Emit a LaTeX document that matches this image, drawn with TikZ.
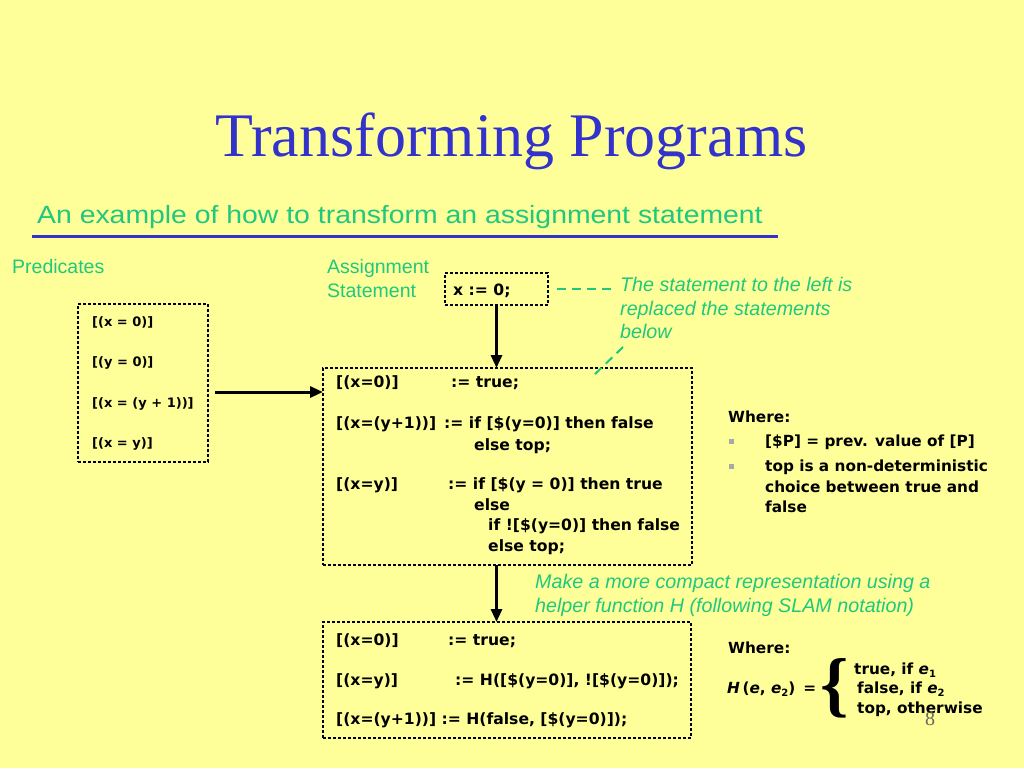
\documentclass[tikz,border=0pt]{standalone}
\usepackage{fontspec}
\setmainfont{Liberation Serif}
\newfontfamily\codefont{DejaVu Sans}
\newfontfamily\labfont{Liberation Sans}
\newfontfamily\subfont[FakeStretch=1.135]{Liberation Sans}
\usetikzlibrary{arrows.meta,calc}
\definecolor{bg}{HTML}{FFFF99}
\definecolor{titleblue}{HTML}{3333CC}
\definecolor{grn}{HTML}{1FC87F}
\definecolor{bulletgrey}{HTML}{A8A8A8}
\begin{document}
\begin{tikzpicture}[x=1pt,y=-1pt,
  dotbox/.style={draw=black, line width=2.6pt, dash pattern=on 2.6pt off 2.4pt, rectangle, inner sep=0pt, outer sep=0pt, anchor=north west},
  code/.style={font=\codefont\bfseries\fontsize{15.6}{18}\selectfont, anchor=base west, inner sep=0pt},
  pcode/.style={font=\codefont\bfseries\fontsize{13}{15}\selectfont, anchor=base west, inner sep=0pt},
  wcode/.style={font=\codefont\bfseries\fontsize{15.3}{17}\selectfont, anchor=base west, inner sep=0pt},
  lab/.style={font=\labfont\fontsize{19.5}{22}\selectfont, text=grn, anchor=base west, inner sep=0pt},
  note/.style={font=\labfont\itshape\fontsize{19.7}{22}\selectfont, text=grn, anchor=base west, inner sep=0pt},
  bigarrow/.style={draw=black, line width=3pt, -{Triangle[length=13pt,width=11pt]}},
  gdash/.style={draw=grn, line width=2pt, dash pattern=on 9pt off 6pt},
  bullet/.style={fill=bulletgrey, minimum size=5pt, inner sep=0pt, rectangle},
]
\fill[bg] (0,0) rectangle (1024,768);
\useasboundingbox (0,0) rectangle (1024,768);

% title
\node (title) at (511.5,156) [anchor=base, font=\fontsize{62}{70}\selectfont, text=titleblue, inner sep=0pt] {Transforming Programs};
\node (sub) at (37,223) [anchor=base west, font=\subfont\fontsize{25}{28}\selectfont, text=grn, inner sep=0pt] {An example of how to transform an assignment statement};
\coordinate (ul1) at (32,236);
\coordinate (ul2) at (778,236);
\draw[titleblue, line width=3pt] (ul1) -- (ul2);

% labels
\node (lpred) at (12,273) [lab] {Predicates};
\node (lass1) at (327,273) [lab] {Assignment};
\node (lass2) at (327,297) [lab] {Statement};

% boxes
\node (pred) at (78,304) [dotbox, minimum width=130pt, minimum height=158pt] {};
\node (xbox) at (445,273) [dotbox, minimum width=103pt, minimum height=32pt] {};
\node (mid) at (323,368) [dotbox, minimum width=369pt, minimum height=197pt] {};
\node (bot) at (323,622) [dotbox, minimum width=368pt, minimum height=116pt] {};

% predicates text
\node (p1) at (92,326) [pcode] {[(x = 0)]};
\node (p2) at (92,366) [pcode] {[(y = 0)]};
\node (p3) at (92,407) [pcode] {[(x = (y + 1))]};
\node (p4) at (92,447) [pcode] {[(x = y)]};

% statement
\node (xs) at (453,295) [code] {x := 0;};

% middle box text
\node (m1a) at (336,387) [code] {[(x=0)]};
\node (m1b) at (451,387) [code] {:= true;};
\node (m2a) at (336,428) [code] {[(x=(y+1))]};
\node (m2b) at (444,428) [code] {:= if [\$(y=0)] then false};
\node (m2c) at (474,450) [code] {else top;};
\node (m3a) at (336,489) [code] {[(x=y)]};
\node (m3b) at (448,489) [code] {:= if [\$(y = 0)] then true};
\node (m3c) at (474,510) [code] {else};
\node (m3d) at (488,530) [code] {if ![\$(y=0)] then false};
\node (m3e) at (488,551) [code] {else top;};

% bottom box text
\node (b1a) at (336,645) [code] {[(x=0)]};
\node (b1b) at (448,645) [code] {:= true;};
\node (b2a) at (336,685) [code] {[(x=y)]};
\node (b2b) at (455,685) [code] {:= H([\$(y=0)], ![\$(y=0)]);};
\node (b3a) at (336,724) [code] {[(x=(y+1))] := H(false, [\$(y=0)]);};

% notes
\node (n1) at (620,291) [note] {The statement to the left is};
\node (n2) at (620,315) [note] {replaced the statements};
\node (n3) at (620,338) [note] {below};
\node (n4) at (535,588) [note] {Make a more compact representation using a};
\node (n5) at (535,612) [note] {helper function H (following SLAM notation)};

% green dashed connectors
\coordinate (nd1) at (612,289);
\coordinate (nd2) at (623,347);
\coordinate (nd3) at (593,376);
\draw[gdash] ([xshift=9pt]xbox.east) -- (nd1);
\draw[gdash] (nd2) -- (nd3);

% arrows
\draw[bigarrow] (xbox.south) -- (xbox.south |- mid.north);
\draw[bigarrow, shorten <=7pt] ([yshift=-9pt]pred.east) -- ([yshift=-9pt]pred.east -| mid.west);
\draw[bigarrow] (mid.south -| xbox.south) -- (bot.north -| xbox.south);

% where 1
\node (w1) at (728,422) [wcode] {Where:};
\node (bl1) at (731.5,441) [bullet] {};
\node (bl2) at (731.5,466) [bullet] {};
\node (w1a) at (765,446) [wcode] {[\$P] = prev. value of [P]};
\node (w1b) at (765,471) [wcode] {top is a non-deterministic};
\node (w1c) at (765,492) [wcode] {choice between true and};
\node (w1d) at (765,512) [wcode] {false};

% where 2
\node (w2) at (728,653) [wcode] {Where:};
\node (hdef) at (727,693) [wcode] {{\itshape H}\,({\itshape e}, {\itshape e}\raisebox{-3pt}{\fontsize{10}{10}\selectfont 2})\, =};
\node (brace) at (835,688) [font=\bfseries\fontsize{72}{72}\selectfont, inner sep=0pt] {\{};
\node (c1) at (854,674) [wcode] {true, if {\itshape e}\raisebox{-3pt}{\fontsize{10}{10}\selectfont 1}};
\node (c2) at (857,693) [wcode] {false, if {\itshape e}\raisebox{-3pt}{\fontsize{10}{10}\selectfont 2}};
\node (c3) at (857,713) [wcode] {top, otherwise};
\node (pnum) at (930,719) [font=\fontsize{20}{20}\selectfont, text=black!60, inner sep=0pt] {8};
\end{tikzpicture}
\end{document}
